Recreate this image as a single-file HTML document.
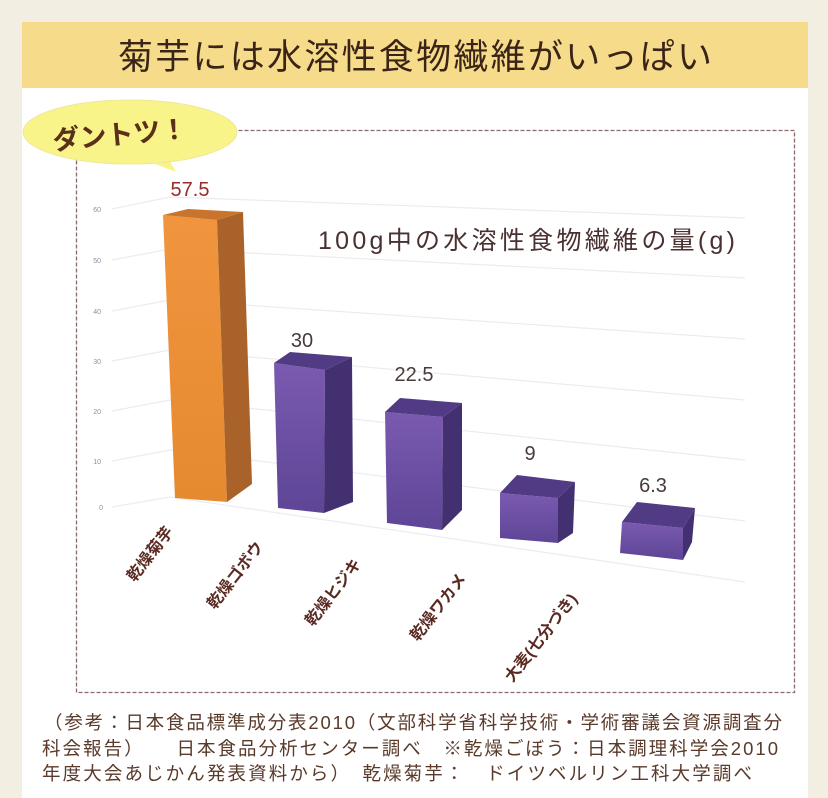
<!DOCTYPE html>
<html><head><meta charset="utf-8"><style>
html,body{margin:0;padding:0;background:#f2eee1;}
body{width:828px;height:798px;position:relative;overflow:hidden;font-family:"Liberation Sans","Noto Sans CJK JP",sans-serif;}
</style></head><body>
<svg width="828" height="798" viewBox="0 0 828 798" xmlns="http://www.w3.org/2000/svg" style="position:absolute;left:0;top:0">
<defs>
<linearGradient id="of" x1="0" y1="0" x2="0" y2="1"><stop offset="0" stop-color="#f0953e"/><stop offset="1" stop-color="#e58a30"/></linearGradient>
<linearGradient id="pf" x1="0" y1="0" x2="0" y2="1"><stop offset="0" stop-color="#7a5ab0"/><stop offset="1" stop-color="#5e4596"/></linearGradient>
</defs>
<rect x="22" y="22" width="786" height="776" fill="#ffffff"/>
<rect x="22" y="22" width="786" height="66" fill="#f6dc8a"/>
<text x="118" y="69" textLength="594" lengthAdjust="spacing" font-size="35" fill="#3a2418">菊芋には水溶性食物繊維がいっぱい</text>
<rect x="76.5" y="130.5" width="718" height="562" fill="none" stroke="#8a6a6a" stroke-width="1.3" stroke-dasharray="4,2"/>
<g stroke="#ececf0" stroke-width="1.2" fill="none">
<polyline points="112,507 170,497 745,582"/>
<polyline points="112,461 170,450 745,521"/>
<polyline points="112,411 170,400 745,460"/>
<polyline points="112,361 170,350 745,400"/>
<polyline points="112,311 170,300 745,339"/>
<polyline points="112,260 170,249 745,278"/>
<polyline points="112,209 170,197 745,218"/>
</g>
<g font-size="7" fill="#8890a0" text-anchor="end">
<text x="101" y="212">60</text><text x="101" y="263">50</text><text x="101" y="314">40</text><text x="101" y="364">30</text><text x="101" y="414">20</text><text x="101" y="464">10</text><text x="103" y="510">0</text>
</g>
<text x="318" y="249" textLength="417" lengthAdjust="spacing" font-size="25" fill="#4a3030">100g中の水溶性食物繊維の量(g)</text>
<polygon points="163,215 217,220 227,502 175,498" fill="url(#of)"/>
<polygon points="217,220 243,212 252,484 227,502" fill="#a8622a"/>
<polygon points="163,215 188,209 243,212 217,220" fill="#c9742c"/>
<polygon points="274,363 325,370 324,513 278,508" fill="url(#pf)"/>
<polygon points="325,370 352,357 353,502 324,513" fill="#433070"/>
<polygon points="274,363 290,352 352,357 325,370" fill="#513b85"/>
<polygon points="385,412 443,417 442,530 387,523" fill="url(#pf)"/>
<polygon points="443,417 462,403 462,510 442,530" fill="#433070"/>
<polygon points="385,412 400,398 462,403 443,417" fill="#513b85"/>
<polygon points="500,493 558,498 558,543 500,538" fill="url(#pf)"/>
<polygon points="558,498 575,482 573,533 558,543" fill="#433070"/>
<polygon points="500,493 517,475 575,482 558,498" fill="#513b85"/>
<polygon points="622,522 683,528 683,560 620,553" fill="url(#pf)"/>
<polygon points="683,528 695,508 692,542 683,560" fill="#433070"/>
<polygon points="622,522 637,502 695,508 683,528" fill="#513b85"/>
<g font-size="20" text-anchor="middle">
<text x="190" y="196" fill="#9a2a2a">57.5</text>
<text x="302" y="347" fill="#4a3a3a">30</text>
<text x="414" y="381" fill="#4a3a3a">22.5</text>
<text x="530" y="460" fill="#4a3a3a">9</text>
<text x="653" y="492" fill="#4a3a3a">6.3</text>
</g>
<g font-size="16" font-weight="bold" fill="#5a2a22" text-anchor="end">
<text transform="translate(174,532) rotate(-52)">乾燥菊芋</text>
<text transform="translate(264,547) rotate(-52)">乾燥ゴボウ</text>
<text transform="translate(362,564) rotate(-52)">乾燥ヒジキ</text>
<text transform="translate(467,579) rotate(-52)">乾燥ワカメ</text>
<text transform="translate(578,599) rotate(-52)">大麦(七分づき)</text>
</g>
<path d="M150,162 L176,172 L168,158 Z" fill="#f8f48a"/>
<ellipse cx="130" cy="132" rx="107" ry="32" fill="#f8f48a" stroke="#efe89a" stroke-width="1"/>
<text x="120" y="144" text-anchor="middle" font-size="27" font-weight="bold" fill="#5a3018" transform="rotate(-5 120 135)">ダントツ！</text>
<g font-size="18.5" fill="#5a3a2a">
<text x="44" y="729" textLength="738" lengthAdjust="spacing">（参考：日本食品標準成分表2010（文部科学省科学技術・学術審議会資源調査分</text>
<text x="42" y="755" textLength="736" lengthAdjust="spacing">科会報告）　　日本食品分析センター調べ　※乾燥ごぼう：日本調理科学会2010</text>
<text x="42" y="780" textLength="710" lengthAdjust="spacing">年度大会あじかん発表資料から）　乾燥菊芋：　ドイツベルリン工科大学調べ</text>
</g>
</svg>
</body></html>
